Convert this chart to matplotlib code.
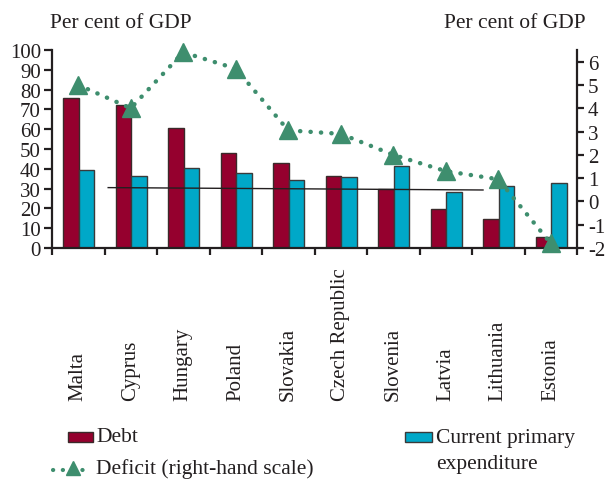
import matplotlib
matplotlib.use("Agg")
import matplotlib.pyplot as plt
from matplotlib.patches import Rectangle
from matplotlib.lines import Line2D
import numpy as np

countries = ["Malta", "Cyprus", "Hungary", "Poland", "Slovakia",
             "Czech Republic", "Slovenia", "Latvia", "Lithuania", "Estonia"]
debt = [76, 72, 60.5, 47.8, 42.8, 36.5, 29.8, 19.8, 14.7, 5.6]
expenditure = [39.6, 36.2, 40.5, 38.0, 34.5, 35.8, 41.3, 28.5, 31.3, 33.0]
deficit = [5.0, 4.0, 6.4, 5.7, 3.05, 2.9, 2.0, 1.3, 0.95, -1.8]
avg_line_x = [0.57, 7.71]
avg_line_y = [30.5, 29.3]
left_ticks = list(range(0, 101, 10))
right_ticks = list(range(-2, 7))

DEBT_C = "#95002E"
EXP_C = "#00A8C8"
DEF_C = "#3E8E6E"
INK = "#231F20"
FONT = "Liberation Serif"

plt.rcParams["font.family"] = [FONT, "DejaVu Serif"]

W, H = 608, 481
fig = plt.figure(figsize=(W / 100, H / 100), dpi=100)
ax = fig.add_axes([52 / W, 1 - 249 / H, 525 / W, 198 / H])
ax2 = ax.twinx()

x = np.arange(len(countries))
bw = 0.295
ax.bar(x - 0.135, debt, bw, color=DEBT_C, edgecolor="#3a2a2a", linewidth=1.0, zorder=2)
ax.bar(x + 0.16, expenditure, bw, color=EXP_C, edgecolor="#3a3a3a", linewidth=1.0, zorder=2)
ax.plot(avg_line_x, avg_line_y, color=INK, linewidth=1.0, zorder=3)

ax.set_xlim(-0.5, len(countries) - 0.5)
ax.set_ylim(0, 100)
ax2.set_ylim(-2, 6.5)

ax2.plot(x, deficit, color=DEF_C, linestyle=(0, (0.05, 2.3)), linewidth=3.2,
         dash_capstyle="round", marker="^", markersize=12.5, zorder=4, clip_on=False)

for a in (ax, ax2):
    a.spines["top"].set_visible(False)
    for s in ("left", "right", "bottom"):
        a.spines[s].set_linewidth(1.6)
        a.spines[s].set_color(INK)
    a.patch.set_visible(False)
ax2.spines["left"].set_visible(False)
ax2.spines["bottom"].set_visible(False)
ax.spines["right"].set_visible(False)

ax.set_yticks(left_ticks)
ax.set_yticklabels([str(t) for t in left_ticks])
ax2.set_yticks(right_ticks)
ax2.set_yticklabels([str(t) for t in right_ticks])
ax.tick_params(axis="y", direction="out", length=6, width=1.6, color=INK,
               labelsize=15, labelcolor=INK, pad=2)
ax2.tick_params(axis="y", direction="out", length=5, width=1.6, color=INK,
                labelsize=15, labelcolor=INK, pad=3)
ax.set_xticks(np.arange(-0.5, len(countries), 1.0))
ax.set_xticklabels([])
ax.tick_params(axis="x", direction="out", length=5, width=1.6, color=INK)

for i, name in enumerate(countries):
    ax.text(i, (249 - 401) / 198, name, rotation=90, ha="center", va="bottom",
            fontsize=15, color=INK, transform=ax.get_xaxis_transform())

fig.text(50 / W, 1 - 23 / H, "Per cent of GDP", fontsize=15.5, color=INK,
         ha="left", va="center")
fig.text(586 / W, 1 - 23 / H, "Per cent of GDP", fontsize=15.5, color=INK,
         ha="right", va="center")

# legend, built by hand
fig.patches.append(Rectangle((68 / W, 1 - 443 / H), 25 / W, 10 / H,
                             transform=fig.transFigure, facecolor=DEBT_C,
                             edgecolor="#3a2a2a", linewidth=1.0))
fig.text(96 / W, 1 - 438 / H, "Debt", fontsize=15.5, color=INK, ha="left", va="center")
fig.patches.append(Rectangle((405 / W, 1 - 443 / H), 27 / W, 10 / H,
                             transform=fig.transFigure, facecolor=EXP_C,
                             edgecolor="#3a3a3a", linewidth=1.0))
fig.text(436 / W, 1 - 438 / H, "Current primary", fontsize=15.5, color=INK,
         ha="left", va="center")
fig.text(436 / W, 1 - 465 / H, "expenditure", fontsize=15.5, color=INK,
         ha="left", va="center")
fig.lines.append(Line2D([53 / W, 92 / W], [1 - 471 / H, 1 - 471 / H],
                        transform=fig.transFigure, color=DEF_C,
                        linestyle=(0, (0.05, 2.3)), linewidth=3.0,
                        dash_capstyle="round"))
fig.lines.append(Line2D([73 / W], [1 - 469 / H], transform=fig.transFigure,
                        color=DEF_C, marker="^", markersize=10, linestyle="none"))
fig.text(96 / W, 1 - 469 / H, "Deficit (right-hand scale)", fontsize=15.5,
         color=INK, ha="left", va="center")

fig.savefig("out.png", dpi=100)
